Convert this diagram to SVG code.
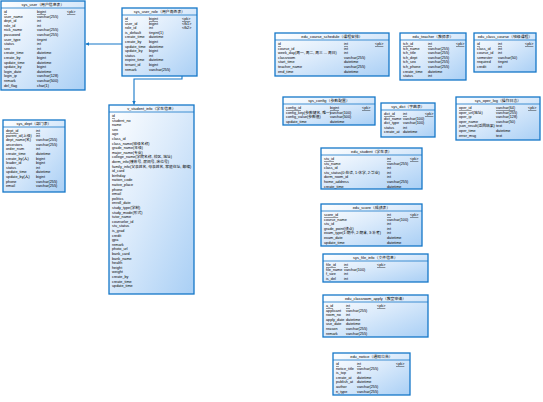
<svg xmlns="http://www.w3.org/2000/svg" width="543" height="402" viewBox="0 0 543 402">
  <defs>
    <linearGradient id="fillTbl" x1="0" y1="0" x2="1" y2="1">
      <stop offset="0" stop-color="#ffffff"/>
      <stop offset="0.45" stop-color="#dcebfb"/>
      <stop offset="1" stop-color="#a9cff5"/>
    </linearGradient>
    <marker id="arr" viewBox="0 0 6 6" refX="6" refY="3" markerWidth="3.5" markerHeight="3.5" orient="auto" markerUnits="strokeWidth">
      <path d="M0,0 L6,3 L0,6 z" fill="#1577c8"/>
    </marker>
  </defs>
  <style>
    .box { fill: url(#fillTbl); stroke: #1577c8; stroke-width: 1.3; }
    .sep { stroke: #1577c8; stroke-width: 0.8; }
    .ttl { font-family: "Liberation Sans", "Noto Sans CJK SC", sans-serif; font-size: 3.9px; text-anchor: middle; fill: #000; }
    .col { font-family: "Liberation Sans", "Noto Sans CJK SC", sans-serif; font-size: 3.75px; fill: #000; }
    .pk { text-decoration: underline; }
    .conn { fill: none; stroke: #1577c8; stroke-width: 1.1; }
  </style>

  <!-- references between tables -->
  <g id="connectors">
    <path class="conn" d="M122,44 L85.6,44" marker-end="url(#arr)"/>
    <path class="conn" d="M182,76 L182,79 L134,79 L134,104.5" marker-end="url(#arr)"/>
  </g>

  <!-- sys_user -->
  <g id="t_sys_user" transform="translate(1,1)">
    <rect class="box" width="84" height="89"/>
    <line class="sep" x1="0" y1="7" x2="84" y2="7"/>
    <text class="ttl" x="42" y="5.3">sys_user（用户信息表）</text>
    <text class="col" x="3" y="12"><tspan class="pk">id</tspan><tspan x="3" dy="4.6">user_name</tspan><tspan x="3" dy="4.6">dept_id</tspan><tspan x="3" dy="4.6">role_id</tspan><tspan x="3" dy="4.6">nick_name</tspan><tspan x="3" dy="4.6">password</tspan><tspan x="3" dy="4.6">user_type</tspan><tspan x="3" dy="4.6">status</tspan><tspan x="3" dy="4.6">sex</tspan><tspan x="3" dy="4.6">create_time</tspan><tspan x="3" dy="4.6">create_by</tspan><tspan x="3" dy="4.6">update_time</tspan><tspan x="3" dy="4.6">update_by</tspan><tspan x="3" dy="4.6">login_date</tspan><tspan x="3" dy="4.6">login_ip</tspan><tspan x="3" dy="4.6">remark</tspan><tspan x="3" dy="4.6">del_flag</tspan></text>
    <text class="col" x="36" y="12"><tspan class="pk">bigint</tspan><tspan x="36" dy="4.6">varchar(255)</tspan><tspan x="36" dy="4.6">int</tspan><tspan x="36" dy="4.6">int</tspan><tspan x="36" dy="4.6">varchar(255)</tspan><tspan x="36" dy="4.6">varchar(255)</tspan><tspan x="36" dy="4.6">tinyint</tspan><tspan x="36" dy="4.6">int</tspan><tspan x="36" dy="4.6">int</tspan><tspan x="36" dy="4.6">datetime</tspan><tspan x="36" dy="4.6">bigint</tspan><tspan x="36" dy="4.6">datetime</tspan><tspan x="36" dy="4.6">bigint</tspan><tspan x="36" dy="4.6">datetime</tspan><tspan x="36" dy="4.6">varchar(128)</tspan><tspan x="36" dy="4.6">varchar(500)</tspan><tspan x="36" dy="4.6">char(1)</tspan></text>
    <text class="col pk" x="66" y="12">&lt;pk&gt;</text>
  </g>

  <!-- sys_user_role -->
  <g id="t_sys_user_role" transform="translate(122,8)">
    <rect class="box" width="75" height="68"/>
    <line class="sep" x1="0" y1="7" x2="75" y2="7"/>
    <text class="ttl" x="37.5" y="5.3">sys_user_role（用户角色表）</text>
    <text class="col" x="3" y="12"><tspan class="pk">id</tspan><tspan x="3" dy="4.6">user_id</tspan><tspan x="3" dy="4.6">role_id</tspan><tspan x="3" dy="4.6">is_default</tspan><tspan x="3" dy="4.6">create_time</tspan><tspan x="3" dy="4.6">create_by</tspan><tspan x="3" dy="4.6">update_time</tspan><tspan x="3" dy="4.6">update_by</tspan><tspan x="3" dy="4.6">status</tspan><tspan x="3" dy="4.6">expire_time</tspan><tspan x="3" dy="4.6">tenant_id</tspan><tspan x="3" dy="4.6">remark</tspan></text>
    <text class="col" x="27" y="12"><tspan class="pk">bigint</tspan><tspan x="27" dy="4.6">bigint</tspan><tspan x="27" dy="4.6">int</tspan><tspan x="27" dy="4.6">tinyint(1)</tspan><tspan x="27" dy="4.6">datetime</tspan><tspan x="27" dy="4.6">bigint</tspan><tspan x="27" dy="4.6">datetime</tspan><tspan x="27" dy="4.6">bigint</tspan><tspan x="27" dy="4.6">int</tspan><tspan x="27" dy="4.6">datetime</tspan><tspan x="27" dy="4.6">bigint</tspan><tspan x="27" dy="4.6">varchar(255)</tspan></text>
    <text class="col" x="60" y="12"><tspan class="pk">&lt;pk&gt;</tspan><tspan x="60" dy="4.6">&lt;fk1&gt;</tspan><tspan x="60" dy="4.6">&lt;fk2&gt;</tspan></text>
  </g>

  <!-- v_student_info -->
  <g id="t_student_info" transform="translate(109,105)">
    <rect class="box" width="85" height="189"/>
    <line class="sep" x1="0" y1="7" x2="85" y2="7"/>
    <text class="ttl" x="42.5" y="5.3">v_student_info（学生信息）</text>
    <text class="col" x="3" y="12"><tspan class="pk">id</tspan><tspan x="3" dy="4.6">student_no</tspan><tspan x="3" dy="4.6">name</tspan><tspan x="3" dy="4.6">sex</tspan><tspan x="3" dy="4.6">age</tspan><tspan x="3" dy="4.6">class_id</tspan><tspan x="3" dy="4.6">class_name(班级名称)</tspan><tspan x="3" dy="4.6">grade_name(年级)</tspan><tspan x="3" dy="4.6">major_name(专业)</tspan><tspan x="3" dy="4.6">college_name(学院名称, 校区, 地址)</tspan><tspan x="3" dy="4.6">dorm_info(楼栋号, 房间号, 床位号)</tspan><tspan x="3" dy="4.6">family_info(父亲姓名, 母亲姓名, 家庭住址, 邮编)</tspan><tspan x="3" dy="4.6">id_card</tspan><tspan x="3" dy="4.6">birthday</tspan><tspan x="3" dy="4.6">nation_code</tspan><tspan x="3" dy="4.6">native_place</tspan><tspan x="3" dy="4.6">phone</tspan><tspan x="3" dy="4.6">email</tspan><tspan x="3" dy="4.6">politics</tspan><tspan x="3" dy="4.6">enroll_date</tspan><tspan x="3" dy="4.6">study_type(学制)</tspan><tspan x="3" dy="4.6">study_mode(形式)</tspan><tspan x="3" dy="4.6">tutor_name</tspan><tspan x="3" dy="4.6">counselor_id</tspan><tspan x="3" dy="4.6">stu_status</tspan><tspan x="3" dy="4.6">is_grad</tspan><tspan x="3" dy="4.6">credit</tspan><tspan x="3" dy="4.6">gpa</tspan><tspan x="3" dy="4.6">remark</tspan><tspan x="3" dy="4.6">photo_url</tspan><tspan x="3" dy="4.6">bank_card</tspan><tspan x="3" dy="4.6">bank_name</tspan><tspan x="3" dy="4.6">health</tspan><tspan x="3" dy="4.6">height</tspan><tspan x="3" dy="4.6">weight</tspan><tspan x="3" dy="4.6">create_by</tspan><tspan x="3" dy="4.6">create_time</tspan><tspan x="3" dy="4.6">update_time</tspan></text>
  </g>

  <!-- sys_dept -->
  <g id="t_sys_dept" transform="translate(3,120)">
    <rect class="box" width="62" height="72"/>
    <line class="sep" x1="0" y1="7" x2="62" y2="7"/>
    <text class="ttl" x="31" y="5.3">sys_dept（部门表）</text>
    <text class="col" x="3" y="12"><tspan class="pk">dept_id</tspan><tspan x="3" dy="4.6">parent_id(上级)</tspan><tspan x="3" dy="4.6">dept_name(名)</tspan><tspan x="3" dy="4.6">ancestors</tspan><tspan x="3" dy="4.6">order_num</tspan><tspan x="3" dy="4.6">create_time</tspan><tspan x="3" dy="4.6">create_by(人)</tspan><tspan x="3" dy="4.6">leader_id</tspan><tspan x="3" dy="4.6">status</tspan><tspan x="3" dy="4.6">update_time</tspan><tspan x="3" dy="4.6">update_by(人)</tspan><tspan x="3" dy="4.6">phone</tspan><tspan x="3" dy="4.6">email</tspan></text>
    <text class="col" x="33" y="12"><tspan class="pk">int</tspan><tspan x="33" dy="4.6">int</tspan><tspan x="33" dy="4.6">varchar(255)</tspan><tspan x="33" dy="4.6">varchar(255)</tspan><tspan x="33" dy="4.6">int</tspan><tspan x="33" dy="4.6">datetime</tspan><tspan x="33" dy="4.6">bigint</tspan><tspan x="33" dy="4.6">bigint</tspan><tspan x="33" dy="4.6">int</tspan><tspan x="33" dy="4.6">datetime</tspan><tspan x="33" dy="4.6">bigint</tspan><tspan x="33" dy="4.6">varchar(255)</tspan><tspan x="33" dy="4.6">varchar(255)</tspan></text>
  </g>

  <!-- edu_course_schedule -->
  <g id="t_course_schedule" transform="translate(275,33)">
    <rect class="box" width="114" height="43"/>
    <line class="sep" x1="0" y1="7" x2="114" y2="7"/>
    <text class="ttl" x="57" y="5.3">edu_course_schedule（课程安排）</text>
    <text class="col" x="3" y="12"><tspan class="pk">id</tspan><tspan x="3" dy="4.6">course_id</tspan><tspan x="3" dy="4.6">week_day(周一, 周二, 周三 ... 周日)</tspan><tspan x="3" dy="4.6">classroom</tspan><tspan x="3" dy="4.6">start_time</tspan><tspan x="3" dy="4.6">teacher_name</tspan><tspan x="3" dy="4.6">end_time</tspan></text>
    <text class="col" x="69" y="12"><tspan class="pk">int</tspan><tspan x="69" dy="4.6">int</tspan><tspan x="69" dy="4.6">int</tspan><tspan x="69" dy="4.6">varchar(255)</tspan><tspan x="69" dy="4.6">datetime</tspan><tspan x="69" dy="4.6">varchar(255)</tspan><tspan x="69" dy="4.6">datetime</tspan></text>
    <text class="col pk" x="100" y="12">&lt;pk&gt;</text>
  </g>

  <!-- edu_teacher -->
  <g id="t_teacher" transform="translate(400,33)">
    <rect class="box" width="66" height="47"/>
    <line class="sep" x1="0" y1="7" x2="66" y2="7"/>
    <text class="ttl" x="33" y="5.3">edu_teacher（教师表）</text>
    <text class="col" x="3" y="12"><tspan class="pk">tch_id</tspan><tspan x="3" dy="4.6">tch_name</tspan><tspan x="3" dy="4.6">tch_title</tspan><tspan x="3" dy="4.6">tch_dept</tspan><tspan x="3" dy="4.6">tch_sex</tspan><tspan x="3" dy="4.6">tch_phone</tspan><tspan x="3" dy="4.6">create_time</tspan><tspan x="3" dy="4.6">status</tspan></text>
    <text class="col" x="28" y="12"><tspan class="pk">int</tspan><tspan x="28" dy="4.6">varchar(255)</tspan><tspan x="28" dy="4.6">varchar(255)</tspan><tspan x="28" dy="4.6">varchar(255)</tspan><tspan x="28" dy="4.6">varchar(255)</tspan><tspan x="28" dy="4.6">varchar(255)</tspan><tspan x="28" dy="4.6">datetime</tspan><tspan x="28" dy="4.6">int</tspan></text>
    <text class="col pk" x="56" y="12">&lt;pk&gt;</text>
  </g>

  <!-- edu_class_course -->
  <g id="t_class_course" transform="translate(474,33)">
    <rect class="box" width="62" height="39"/>
    <line class="sep" x1="0" y1="7" x2="62" y2="7"/>
    <text class="ttl" x="31" y="5.3">edu_class_course（班级课程）</text>
    <text class="col" x="3" y="12"><tspan class="pk">id</tspan><tspan x="3" dy="4.6">class_id</tspan><tspan x="3" dy="4.6">course_id</tspan><tspan x="3" dy="4.6">semester</tspan><tspan x="3" dy="4.6">required</tspan><tspan x="3" dy="4.6">credit</tspan></text>
    <text class="col" x="24" y="12"><tspan class="pk">int</tspan><tspan x="24" dy="4.6">int</tspan><tspan x="24" dy="4.6">int</tspan><tspan x="24" dy="4.6">varchar(50)</tspan><tspan x="24" dy="4.6">tinyint</tspan><tspan x="24" dy="4.6">int</tspan></text>
    <text class="col pk" x="51" y="12">&lt;pk&gt;</text>
  </g>

  <!-- sys_config -->
  <g id="t_sys_config" transform="translate(283,97)">
    <rect class="box" width="92" height="28"/>
    <line class="sep" x1="0" y1="7" x2="92" y2="7"/>
    <text class="ttl" x="46" y="5.3">sys_config（参数配置）</text>
    <text class="col" x="3" y="12"><tspan class="pk">config_id</tspan><tspan x="3" dy="4.6">config_key(参数键名, 唯一)</tspan><tspan x="3" dy="4.6">config_value(参数值)</tspan><tspan x="3" dy="4.6">update_time</tspan></text>
    <text class="col" x="47" y="12"><tspan class="pk">bigint</tspan><tspan x="47" dy="4.6">varchar(100)</tspan><tspan x="47" dy="4.6">varchar(500)</tspan><tspan x="47" dy="4.6">datetime</tspan></text>
    <text class="col pk" x="79" y="12">&lt;pk&gt;</text>
  </g>

  <!-- sys_dict -->
  <g id="t_sys_dict" transform="translate(381,103)">
    <rect class="box" width="54" height="34"/>
    <line class="sep" x1="0" y1="7" x2="54" y2="7"/>
    <text class="ttl" x="27" y="5.3">sys_dict（字典表）</text>
    <text class="col" x="3" y="12"><tspan class="pk">dict_id</tspan><tspan x="3" dy="4.6">dict_name</tspan><tspan x="3" dy="4.6">dict_type</tspan><tspan x="3" dy="4.6">status</tspan><tspan x="3" dy="4.6">create_at</tspan></text>
    <text class="col" x="22" y="12"><tspan class="pk">int</tspan><tspan x="22" dy="4.6">varchar(100)</tspan><tspan x="22" dy="4.6">varchar(100)</tspan><tspan x="22" dy="4.6">int</tspan><tspan x="22" dy="4.6">datetime</tspan></text>
    <text class="col pk" x="44" y="12">&lt;pk&gt;</text>
  </g>

  <!-- sys_oper_log -->
  <g id="t_oper_log" transform="translate(456,97)">
    <rect class="box" width="84" height="43"/>
    <line class="sep" x1="0" y1="7" x2="84" y2="7"/>
    <text class="ttl" x="42" y="5.3">sys_oper_log（操作日志）</text>
    <text class="col" x="3" y="12"><tspan class="pk">oper_id</tspan><tspan x="3" dy="4.6">oper_url(地址)</tspan><tspan x="3" dy="4.6">oper_ip</tspan><tspan x="3" dy="4.6">oper_name</tspan><tspan x="3" dy="4.6">json_result(返回结果)</tspan><tspan x="3" dy="4.6">oper_time</tspan><tspan x="3" dy="4.6">error_msg</tspan></text>
    <text class="col" x="40" y="12"><tspan class="pk">varchar(64)</tspan><tspan x="40" dy="4.6">varchar(255)</tspan><tspan x="40" dy="4.6">varchar(128)</tspan><tspan x="40" dy="4.6">varchar(50)</tspan><tspan x="40" dy="4.6">text</tspan><tspan x="40" dy="4.6">datetime</tspan><tspan x="40" dy="4.6">text</tspan></text>
    <text class="col pk" x="72" y="12">&lt;pk&gt;</text>
  </g>

  <!-- edu_student -->
  <g id="t_student" transform="translate(321,148)">
    <rect class="box" width="101" height="41"/>
    <line class="sep" x1="0" y1="7" x2="101" y2="7"/>
    <text class="ttl" x="50.5" y="5.3">edu_student（学生表）</text>
    <text class="col" x="3" y="12"><tspan class="pk">stu_id</tspan><tspan x="3" dy="4.6">stu_name</tspan><tspan x="3" dy="4.6">class_id</tspan><tspan x="3" dy="4.6">stu_status(0:在读, 1:休学, 2:毕业)</tspan><tspan x="3" dy="4.6">dorm_room_id</tspan><tspan x="3" dy="4.6">home_address</tspan><tspan x="3" dy="4.6">create_time</tspan></text>
    <text class="col" x="66" y="12"><tspan class="pk">int</tspan><tspan x="66" dy="4.6">varchar(255)</tspan><tspan x="66" dy="4.6">int</tspan><tspan x="66" dy="4.6">int</tspan><tspan x="66" dy="4.6">int</tspan><tspan x="66" dy="4.6">varchar(255)</tspan><tspan x="66" dy="4.6">datetime</tspan></text>
    <text class="col pk" x="89" y="12">&lt;pk&gt;</text>
  </g>

  <!-- edu_score -->
  <g id="t_score" transform="translate(321,204)">
    <rect class="box" width="101" height="42"/>
    <line class="sep" x1="0" y1="7" x2="101" y2="7"/>
    <text class="ttl" x="50.5" y="5.3">edu_score（成绩表）</text>
    <text class="col" x="3" y="12"><tspan class="pk">score_id</tspan><tspan x="3" dy="4.6">course_name</tspan><tspan x="3" dy="4.6">stu_id</tspan><tspan x="3" dy="4.6">grade_point(绩点)</tspan><tspan x="3" dy="4.6">exam_type(1:期中, 2:期末, 3:补考)</tspan><tspan x="3" dy="4.6">exam_date</tspan><tspan x="3" dy="4.6">update_time</tspan></text>
    <text class="col" x="66" y="12"><tspan class="pk">int</tspan><tspan x="66" dy="4.6">varchar(100)</tspan><tspan x="66" dy="4.6">int</tspan><tspan x="66" dy="4.6">int</tspan><tspan x="66" dy="4.6">int</tspan><tspan x="66" dy="4.6">datetime</tspan><tspan x="66" dy="4.6">datetime</tspan></text>
    <text class="col pk" x="89" y="12">&lt;pk&gt;</text>
  </g>

  <!-- sys_file_info -->
  <g id="t_file_info" transform="translate(323,254)">
    <rect class="box" width="105" height="28"/>
    <line class="sep" x1="0" y1="7" x2="105" y2="7"/>
    <text class="ttl" x="52.5" y="5.3">sys_file_info（文件信息）</text>
    <text class="col" x="3" y="12"><tspan class="pk">file_id</tspan><tspan x="3" dy="4.6">file_name</tspan><tspan x="3" dy="4.6">f_size</tspan><tspan x="3" dy="4.6">is_del</tspan></text>
    <text class="col" x="21" y="12"><tspan class="pk">int</tspan><tspan x="21" dy="4.6">varchar(100)</tspan><tspan x="21" dy="4.6">int</tspan><tspan x="21" dy="4.6">int</tspan></text>
    <text class="col pk" x="54" y="12">&lt;pk&gt;</text>
  </g>

  <!-- edu_classroom_apply -->
  <g id="t_room_apply" transform="translate(323,295)">
    <rect class="box" width="105" height="42"/>
    <line class="sep" x1="0" y1="7" x2="105" y2="7"/>
    <text class="ttl" x="52.5" y="5.3">edu_classroom_apply（教室申请）</text>
    <text class="col" x="3" y="12"><tspan class="pk">a_id</tspan><tspan x="3" dy="4.6">applicant</tspan><tspan x="3" dy="4.6">room_no</tspan><tspan x="3" dy="4.6">apply_date</tspan><tspan x="3" dy="4.6">use_date</tspan><tspan x="3" dy="4.6">reason</tspan><tspan x="3" dy="4.6">remark</tspan></text>
    <text class="col" x="23" y="12"><tspan class="pk">int</tspan><tspan x="23" dy="4.6">varchar(255)</tspan><tspan x="23" dy="4.6">int</tspan><tspan x="23" dy="4.6">datetime</tspan><tspan x="23" dy="4.6">datetime</tspan><tspan x="23" dy="4.6">varchar(255)</tspan><tspan x="23" dy="4.6">varchar(255)</tspan></text>
    <text class="col pk" x="54" y="12">&lt;pk&gt;</text>
  </g>

  <!-- edu_notice -->
  <g id="t_notice" transform="translate(333,353)">
    <rect class="box" width="77" height="42"/>
    <line class="sep" x1="0" y1="7" x2="77" y2="7"/>
    <text class="ttl" x="38.5" y="5.3">edu_notice（通知公告）</text>
    <text class="col" x="3" y="12"><tspan class="pk">id</tspan><tspan x="3" dy="4.6">notice_title</tspan><tspan x="3" dy="4.6">is_top</tspan><tspan x="3" dy="4.6">create_at</tspan><tspan x="3" dy="4.6">publish_at</tspan><tspan x="3" dy="4.6">author</tspan><tspan x="3" dy="4.6">n_type</tspan></text>
    <text class="col" x="24" y="12"><tspan class="pk">int</tspan><tspan x="24" dy="4.6">varchar(255)</tspan><tspan x="24" dy="4.6">int</tspan><tspan x="24" dy="4.6">datetime</tspan><tspan x="24" dy="4.6">datetime</tspan><tspan x="24" dy="4.6">varchar(255)</tspan><tspan x="24" dy="4.6">varchar(255)</tspan></text>
    <text class="col pk" x="63" y="12">&lt;pk&gt;</text>
  </g>
</svg>
